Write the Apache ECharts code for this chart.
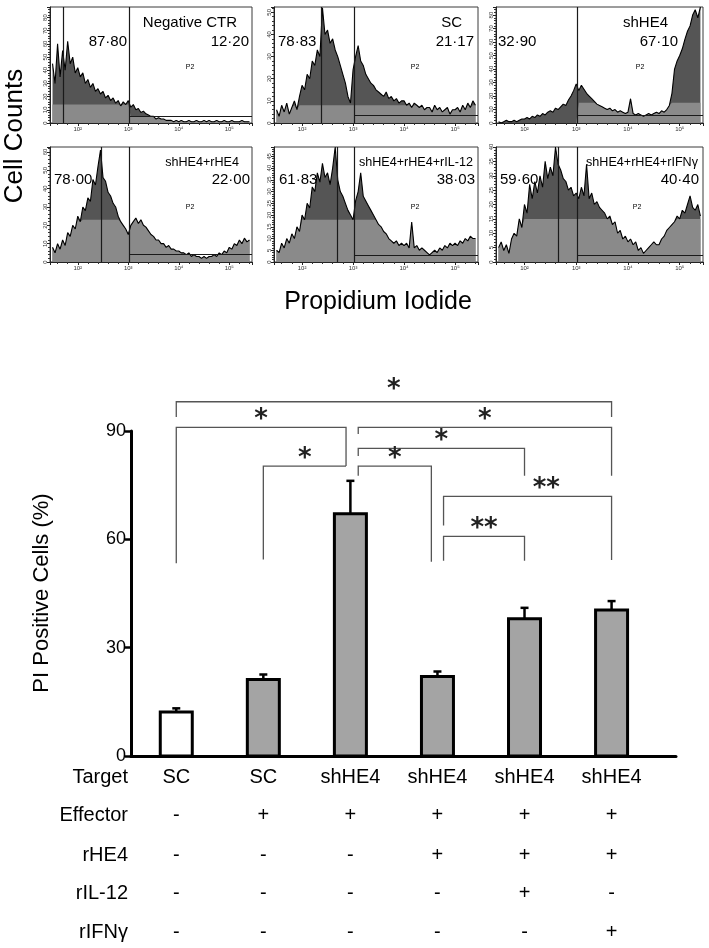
<!DOCTYPE html>
<html><head><meta charset="utf-8">
<script src="https://cdn.jsdelivr.net/npm/echarts@6/dist/echarts.min.js"></script>
<style>html,body{margin:0;padding:0;background:#fff}#c{width:709px;height:948px}</style>
</head><body><div id="c"></div>
<script>
// ---------- Flow cytometry histograms (log10 PI intensity bins) ----------
const binStart = 1.5, binStep = 0.05;
const panelNames = ['Negative CTR', 'SC', 'shHE4', 'shHE4+rHE4', 'shHE4+rHE4+rIL-12', 'shHE4+rHE4+rIFNγ'];
const pctLeft = ['87·80', '78·83', '32·90', '78·00', '61·83', '59·60'];
const pctRight = ['12·20', '21·17', '67·10', '22·00', '38·03', '40·40'];
const histNegCTR = [45,30,60,35,55,40,62,45,50,38, 42,35,38,30,33,27,30,24,26,22, 24,19,21,17,19,15,17,13,16,14, 17,12,14,10,11,8,9,7,6,5, 5,3,4,3,3,2,2,2,1,2, 1,2,1,1,2,1,1,2,1,1, 2,1,2,1,1,2,1,1,2,1, 1,2,1,1,1,2,1,1,1];
const histSC = [6,3,8,5,9,4,7,10,6,12, 17,15,22,20,28,26,33,30,52,40, 42,36,38,33,30,26,22,18,12,9, 24,30,35,28,26,22,20,18,17,15, 14,13,12,14,11,12,10,11,9,10, 10,8,9,7,9,8,7,8,6,7, 7,5,8,6,7,5,6,7,4,6, 6,7,5,8,6,9,7,10,8];
const histShHE4 = [1,0,1,2,1,1,2,1,2,3, 3,4,3,5,4,6,5,7,6,8, 9,8,11,10,12,14,13,17,20,24, 29,24,28,25,22,20,18,16,14,13, 12,11,10,11,9,10,8,9,8,7, 8,18,7,6,7,6,5,6,7,6, 7,8,7,9,8,10,13,22,40,46, 50,55,62,68,72,80,84,78,86];
const histRHE4 = [8,5,10,7,12,9,16,14,20,18, 25,22,30,28,35,33,45,42,52,61, 46,44,38,36,32,30,25,22,20,18, 15,20,22,24,21,23,20,19,17,15, 14,12,12,10,10,8,9,7,7,6, 6,5,5,4,5,3,4,3,3,2, 3,2,3,3,4,3,5,4,6,5, 8,7,10,9,12,10,13,11,12];
const histRIL12 = [5,4,8,6,10,8,12,10,15,13, 20,18,25,23,32,30,38,34,42,36, 38,33,40,49,35,30,28,25,22,20, 18,26,30,38,28,26,24,22,20,18, 16,15,13,12,10,9,8,9,7,8, 7,8,6,17,6,7,5,6,5,4, 3,4,5,4,6,5,7,6,8,7, 8,7,9,8,10,9,11,10,10];
const histRIFNg = [5,7,4,6,3,8,10,9,15,12, 20,17,27,22,28,24,30,26,35,29, 33,30,40,34,32,29,28,25,26,23, 24,22,26,23,34,22,24,20,21,19, 18,17,15,16,13,14,10,11,8,9, 7,8,6,7,4,5,3,4,5,6, 7,6,6,8,9,11,12,13,14,16, 15,18,17,20,23,19,18,20,16];
const panelYMax = [88, 52.4, 86, 62.7, 49, 40];
const panelYStep = [10, 10, 10, 10, 5, 5];
const bandLeft = [14, 8, 0, 23, 18, 15];
const bandRight = [5, 8, 15, 25, 18, 15];
const gateLevel = [5.3, 3.3, 5.4, 4, 2.9, 2.3];
const peakLine = [1.71, 2.38, null, 2.47, 2.69, 2.65];
const gateLog = 3.02;
const xTickLabels = {2: '10²', 3: '10³', 4: '10⁴', 5: '10⁵'};

// ---------- Bar chart ----------
const categories = ['SC', 'SC', 'shHE4', 'shHE4', 'shHE4', 'shHE4'];
const piMean = [12.20, 21.17, 67.10, 22.00, 38.03, 40.40];
const piSEM = [1.0, 1.4, 9.1, 1.4, 3.0, 2.5];
const rowLabels = ['Target', 'Effector', 'rHE4', 'rIL-12', 'rIFNγ'];
const effectorRow = ['-', '+', '+', '+', '+', '+'];
const rHE4Row = ['-', '-', '-', '+', '+', '+'];
const rIL12Row = ['-', '-', '-', '-', '+', '-'];
const rIFNRow = ['-', '-', '-', '-', '-', '+'];
// [x1, x2, yLine, yLeftEnd, yRightEnd, label, labelX]
const brackets = [
  [0, 5, 98.1, 93.9, 93.9, '*'],
  [0, 1.95, 91.0, 53.4, 80.3, '*'],
  [2.09, 5, 91.0, 89.2, 77.6, '*'],
  [2.09, 4, 85.2, 83.1, 77.6, '*'],
  [1, 1.95, 80.3, 54.4, 80.3, '*'],
  [2.09, 2.93, 80.3, 77.6, 53.8, '*'],
  [3.07, 5, 71.9, 63.8, 54.3, '**', 4.25],
  [3.07, 4, 60.8, 54.1, 54.1, '**']
];

const FONT = 'Liberation Sans, Arial, Helvetica, sans-serif';
const hists = [histNegCTR, histSC, histShHE4, histRHE4, histRIL12, histRIFNg];
const gridBoxes = [[50,7,202,116],[274,7,204,116],[496,7,207,116],[50,147,202,115],[274,147,204,115],[496,147,207,115]];
const nameAnchor = [[237,23],[462,23],[668,23],[239,163],[473,163],[698,163]];
const leftPctAnchor = [[127,42,'right'],[278,42,'left'],[498,42,'left'],[54,180,'left'],[279,180,'left'],[500,180,'left']];
const rightPctAnchor = [[249,42],[474,42],[678,42],[250,180],[475,180],[699,180]];
const p2Anchor = [[190,67],[415,67],[640,67],[190,207],[415,207],[637,207]];

const grids = [], xAxes = [], yAxes = [], series = [], graphics = [];
function txt(text, x, y, size, align, extra) {
  return Object.assign({type: 'text', x: x, y: y, silent: true,
    style: {text: text, font: size + 'px ' + FONT, fill: '#000', align: align || 'center', verticalAlign: 'middle'}}, extra || {});
}

hists.forEach((hist, k) => {
  const [l, t, w, h] = gridBoxes[k];
  grids.push({left: l, top: t, width: w, height: h, show: true, borderColor: '#3a3a3a', borderWidth: 1});
  xAxes.push({gridIndex: k, type: 'value', min: 1.45, max: 5.45, splitNumber: 4,
    axisLine: {show: true, onZero: false, lineStyle: {color: '#222', width: 1}},
    axisTick: {show: true, length: 3, lineStyle: {color: '#222'}},
    minorTick: {show: true, splitNumber: 5, length: 2, lineStyle: {color: '#333'}},
    axisLabel: {fontSize: 6, color: '#333', margin: 3, fontFamily: FONT, formatter: v => xTickLabels[v] || ''},
    splitLine: {show: false}});
  yAxes.push({gridIndex: k, type: 'value', min: 0, max: panelYMax[k], interval: panelYStep[k],
    axisLine: {show: true, onZero: false, lineStyle: {color: '#222', width: 1}},
    axisTick: {show: true, length: 3, lineStyle: {color: '#222'}},
    minorTick: {show: true, splitNumber: 5, length: 2, lineStyle: {color: '#333'}},
    axisLabel: {fontSize: 6, color: '#333', margin: 2, rotate: 90, fontFamily: FONT,
      formatter: v => (v % panelYStep[k] === 0 ? String(v) : '')},
    splitLine: {show: false}});
  const pts = hist.map((c, i) => [+(binStart + i * binStep).toFixed(2), c]);
  const band = pts.map(([x, c]) => [x, Math.min(c, x < gateLog ? bandLeft[k] : bandRight[k])]);
  series.push({type: 'line', xAxisIndex: k, yAxisIndex: k, data: pts, symbol: 'none', silent: true,
    lineStyle: {width: 0}, areaStyle: {color: '#555555', opacity: 1}, z: 2});
  series.push({type: 'line', xAxisIndex: k, yAxisIndex: k, data: band, symbol: 'none', silent: true,
    lineStyle: {width: 0}, areaStyle: {color: '#8a8a8a', opacity: 1}, z: 3});
  const ml = [{xAxis: gateLog}, [{coord: [gateLog, gateLevel[k]]}, {coord: [5.45, gateLevel[k]]}]];
  if (peakLine[k] != null) ml.push({xAxis: peakLine[k]});
  series.push({type: 'line', xAxisIndex: k, yAxisIndex: k, data: pts, symbol: 'none', silent: true,
    lineStyle: {color: '#000', width: 1.1}, z: 4,
    markLine: {silent: true, symbol: ['none', 'none'], label: {show: false},
      lineStyle: {color: '#1a1a1a', width: 1.2, type: 'solid'}, data: ml}});
  graphics.push(txt(panelNames[k], nameAnchor[k][0], nameAnchor[k][1], k < 3 ? 15 : 12.6, 'right'));
  graphics.push(txt(pctLeft[k], leftPctAnchor[k][0], leftPctAnchor[k][1], 15, leftPctAnchor[k][2]));
  graphics.push(txt(pctRight[k], rightPctAnchor[k][0], rightPctAnchor[k][1], 15, 'right'));
  graphics.push(txt('P2', p2Anchor[k][0], p2Anchor[k][1], 7, 'center'));
});

graphics.push(txt('Cell Counts', 15, 136, 26, 'center', {rotation: Math.PI / 2}));
graphics.push(txt('Propidium Iodide', 378, 302, 25, 'center'));
graphics.push(txt('PI Positive Cells (%)', 42, 593, 22, 'center', {rotation: Math.PI / 2}));
const rowY = [777, 815, 855, 893, 932];
rowLabels.forEach((r, i) => graphics.push(txt(r, 128, rowY[i], 20, 'right')));

// bar chart grid
const B = 6;
grids.push({left: 131, top: 431, width: 545, height: 325, show: false});
xAxes.push({gridIndex: B, type: 'value', min: -0.52, max: 5.74,
  axisLine: {show: true, onZero: false, lineStyle: {color: '#000', width: 3}},
  axisTick: {show: false}, axisLabel: {show: false}, splitLine: {show: false}});
yAxes.push({gridIndex: B, type: 'value', min: 0, max: 90, interval: 30,
  axisLine: {show: true, onZero: false, lineStyle: {color: '#000', width: 3}},
  axisTick: {show: true, length: 6, lineStyle: {color: '#000', width: 2.5}},
  axisLabel: {fontSize: 18, color: '#000', margin: 5, fontFamily: FONT},
  splitLine: {show: false}});

series.push({type: 'custom', xAxisIndex: B, yAxisIndex: B, clip: false, silent: true, z: 5,
  data: piMean.map((v, i) => [i, v]),
  renderItem: (params, api) => {
    const top = api.coord([api.value(0), api.value(1)]);
    const base = api.coord([api.value(0), 0]);
    const w = 32;
    return {type: 'rect', shape: {x: top[0] - w / 2, y: top[1], width: w, height: base[1] - top[1]},
      style: {fill: params.dataIndex === 0 ? '#ffffff' : '#a4a4a4', stroke: '#000', lineWidth: 3}};
  }});
series.push({type: 'custom', xAxisIndex: B, yAxisIndex: B, clip: false, silent: true, z: 4,
  data: piMean.map((v, i) => [i, v, piSEM[i]]),
  renderItem: (params, api) => {
    const p0 = api.coord([api.value(0), api.value(1)]);
    const p1 = api.coord([api.value(0), api.value(1) + api.value(2)]);
    return {type: 'group', children: [
      {type: 'line', shape: {x1: p0[0], y1: p0[1], x2: p1[0], y2: p1[1]}, style: {stroke: '#000', lineWidth: 2.5}},
      {type: 'line', shape: {x1: p1[0] - 4, y1: p1[1], x2: p1[0] + 4, y2: p1[1]}, style: {stroke: '#000', lineWidth: 2.5}}
    ]};
  }});
series.push({type: 'custom', xAxisIndex: B, yAxisIndex: B, clip: false, silent: true, z: 6,
  data: brackets.map(b => [b[0], b[2]]),
  renderItem: (params, api) => {
    const b = brackets[params.dataIndex];
    const a = api.coord([b[0], b[3]]), c = api.coord([b[0], b[2]]);
    const d = api.coord([b[1], b[2]]), e = api.coord([b[1], b[4]]);
    const lx = b[6] != null ? api.coord([b[6], b[2]])[0] : (c[0] + d[0]) / 2;
    const off = params.dataIndex === 0 ? 12 : 7;
    return {type: 'group', children: [
      {type: 'polyline', shape: {points: [a, c, d, e]}, style: {stroke: '#555', lineWidth: 1.3, fill: null}},
      {type: 'text', x: lx, y: c[1] - off, style: {text: b[5], font: 'bold 26px DejaVu Sans', fill: '#222', align: 'center', verticalAlign: 'middle'}}
    ]};
  }});
const tableRows = [categories, effectorRow, rHE4Row, rIL12Row, rIFNRow];
series.push({type: 'custom', xAxisIndex: B, yAxisIndex: B, clip: false, silent: true, z: 6,
  data: categories.map((c, i) => [i, 0]),
  renderItem: (params, api) => {
    const x = api.coord([api.value(0), 0])[0];
    return {type: 'group', children: tableRows.map((row, r) => ({
      type: 'text', x: x, y: rowY[r],
      style: {text: row[params.dataIndex], font: '20px ' + FONT, fill: '#000', align: 'center', verticalAlign: 'middle'}}))};
  }});

const chart = echarts.init(document.getElementById('c'));
chart.setOption({animation: false, backgroundColor: '#fff', grid: grids, xAxis: xAxes, yAxis: yAxes, series: series, graphic: graphics});
</script></body></html>
